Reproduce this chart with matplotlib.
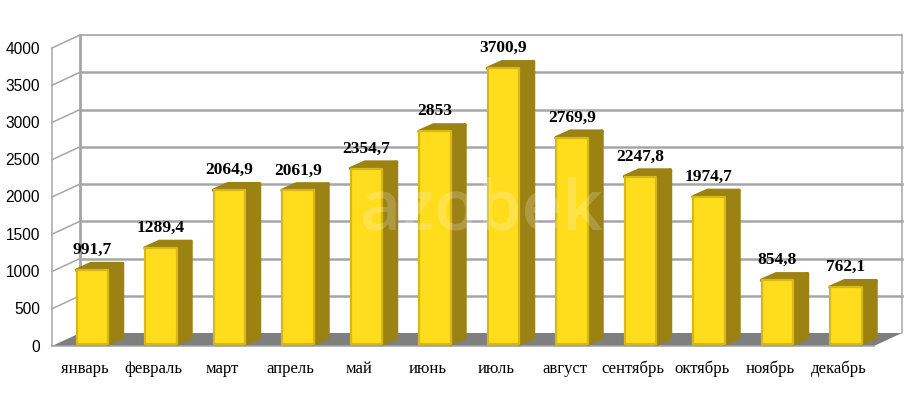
import matplotlib
matplotlib.use('Agg')
import matplotlib.pyplot as plt
from matplotlib.patches import Polygon, Rectangle

months = ['январь', 'февраль', 'март', 'апрель', 'май', 'июнь', 'июль',
          'август', 'сентябрь', 'октябрь', 'ноябрь', 'декабрь']
values = [991.7, 1289.4, 2064.9, 2061.9, 2354.7, 2853, 3700.9,
          2769.9, 2247.8, 1974.7, 854.8, 762.1]
labels = ['991,7', '1289,4', '2064,9', '2061,9', '2354,7', '2853', '3700,9',
          '2769,9', '2247,8', '1974,7', '854,8', '762,1']
y_ticks = [0, 500, 1000, 1500, 2000, 2500, 3000, 3500, 4000]

W, H = 917, 396
fig = plt.figure(figsize=(W / 100, H / 100), dpi=100)
# передняя плоскость псевдо-3D
ax = fig.add_axes([52 / W, (H - 346) / H, 822 / W, 298 / H])
ax.set_xlim(0, 12)
ax.set_ylim(0, 4000)
ax.axis('off')

px_x = 12 / 822
px_y = 4000 / 298
wall_dx, wall_dy = 28 * px_x, 13 * px_y
GRID = '#a6a6a6'

# пол
ax.add_patch(Polygon([(0, 0), (12, 0), (12 + wall_dx, wall_dy), (wall_dx, wall_dy)],
                     fc='#7f7f7f', ec='none', clip_on=False, zorder=1))

# сетка на задней и левой стенках
for t in y_ticks[1:]:
    ax.plot([0, wall_dx], [t, t + wall_dy], color=GRID, lw=1.1, clip_on=False, zorder=1)
    lw = 1.2 if t == 4000 else 1.8
    ax.plot([wall_dx, 12 + wall_dx], [t + wall_dy, t + wall_dy], color=GRID, lw=lw,
            clip_on=False, zorder=1)
ax.plot([0, 0], [0, 4000], color=GRID, lw=1.1, clip_on=False, zorder=1)
ax.plot([wall_dx, wall_dx], [wall_dy, 4000 + wall_dy], color=GRID, lw=2, clip_on=False, zorder=1)
ax.plot([12 + wall_dx] * 2, [wall_dy, 4000 + wall_dy], color=GRID, lw=1.1, clip_on=False, zorder=1)
ax.plot([0, 12], [0, 0], color=GRID, lw=1.2, clip_on=False, zorder=2)

# столбцы
bar_w = 31.5 * px_x
shift_x, shift_y = 6 * px_x, 2 * px_y
depth_x, depth_y = 14.5 * px_x, 6.5 * px_y
for i, v in enumerate(values):
    x0 = i + 0.5 + shift_x - bar_w / 2
    x1 = x0 + bar_w
    y0 = shift_y
    y1 = shift_y + v
    ax.add_patch(Polygon([(x1, y0), (x1 + depth_x, y0 + depth_y),
                          (x1 + depth_x, y1 + depth_y), (x1, y1)],
                         fc='#9c8212', ec='#9c8212', lw=2.5, joinstyle='round',
                         clip_on=False, zorder=3))
    ax.add_patch(Polygon([(x0, y1), (x1, y1), (x1 + depth_x, y1 + depth_y),
                          (x0 + depth_x, y1 + depth_y)],
                         fc='#9c8212', ec='#9c8212', lw=2.5, joinstyle='round',
                         clip_on=False, zorder=3))
    ax.add_patch(Rectangle((x0, y0), bar_w, v, fc='#ffdc1c', ec='#d8b816', lw=1.6,
                           joinstyle='round', clip_on=False, zorder=4))
    ax.text(i + 0.5 + shift_x, y1 + 20 * px_y, labels[i], ha='center', va='center',
            family='Liberation Serif', fontweight='bold', fontsize=12.5, color='black',
            clip_on=False, zorder=6)
    ax.text(i + 0.5 - 1.2 * px_x, -23 * px_y, months[i], ha='center', va='center',
            family='Liberation Serif', fontsize=12, color='black', clip_on=False)

for t in y_ticks:
    ax.text(-12 * px_x, t - 1 * px_y, str(t), ha='right', va='center',
            family='Liberation Sans', fontsize=11.2, color='black', clip_on=False)

# водяной знак
fig.text(482 / W, 1 - 230 / H, 'azobek', ha='center', va='baseline', family='Open Sans',
         fontweight='semibold', fontsize=51, color='white', alpha=0.2, zorder=10)

plt.savefig('out.png', dpi=100)
